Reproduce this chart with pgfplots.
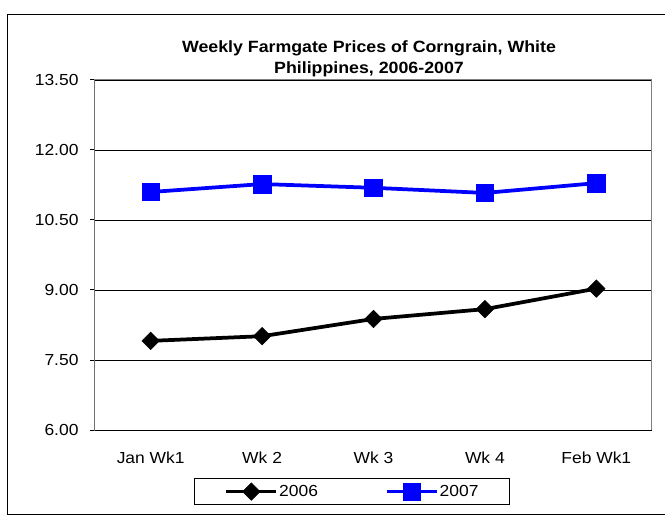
\documentclass[border=0pt]{standalone}
\usepackage{pgfplots}
\pgfplotsset{compat=1.18}
\usepackage{fontspec}
\setmainfont{Liberation Sans}[FakeStretch=1.09]
\definecolor{xlblue}{RGB}{0,0,255}
\begin{document}
\begin{tikzpicture}
\path[use as bounding box] (-95bp,-85bp) rectangle (570bp,430bp);
\draw[black, line width=1bp] (-87bp,-84bp) rectangle (572bp,415bp);
\node[align=center, font=\fontsize{16.3bp}{21bp}\selectfont\bfseries] at (274bp,371bp) {Weekly Farmgate Prices of Corngrain, White\\Philippines, 2006-2007};
\begin{axis}[
  at={(0,0)}, anchor=south west,
  scale only axis, width=557bp, height=350bp,
  xmin=-0.5, xmax=4.5, ymin=6, ymax=13.5,
  xtick={0,1,2,3,4},
  xticklabels={Jan Wk1, Wk 2, Wk 3, Wk 4, Feb Wk1},
  major x tick style={draw=none},
  extra x ticks={-0.5,0.5,1.5,2.5,3.5,4.5},
  extra x tick labels={},
  extra x tick style={major tick length=5bp, tick style={black, line width=1bp}},
  ytick={6,7.5,9,10.5,12,13.5},
  yticklabel style={/pgf/number format/fixed, /pgf/number format/fixed zerofill, /pgf/number format/precision=2, /pgf/number format/assume math mode=true, xshift=-8bp},
  ymajorgrids, grid style={black, line width=0.8bp},
  tick align=outside, tick pos=left, major tick length=5bp,
  major tick style={black, line width=1bp},
  axis line style={draw=gray, line width=1bp},
  ticklabel style={font=\fontsize{16bp}{19bp}\selectfont},
  xticklabel style={yshift=-13bp},
  legend columns=2,
  legend style={at={(0.4614,-0.137)}, anchor=north, draw=black, line width=0.8bp,
    font=\fontsize{16bp}{19bp}\selectfont, inner xsep=30bp, inner ysep=4.5bp,
    nodes={inner xsep=1bp, inner ysep=2bp},
    /tikz/every even column/.append style={column sep=66bp}},
  legend image code/.code={\draw[mark repeat=2,mark phase=2,#1] plot coordinates {(0bp,0bp) (25bp,0bp) (50bp,0bp)};},
]
\addplot[black, line width=3.75bp, mark=square*, mark size=6.2bp, mark options={solid, rotate=45, line width=0.5bp}] coordinates {
  (0,7.91) (1,8.01) (2,8.38) (3,8.59) (4,9.03)
};
\addlegendentry{2006}
\addplot[xlblue, line width=3.75bp, mark=square*, mark size=8.75bp, mark options={solid, line width=0.5bp}] coordinates {
  (0,11.10) (1,11.27) (2,11.19) (3,11.08) (4,11.29)
};
\addlegendentry{2007}
\draw[black, line width=1bp] (rel axis cs:0,1) -- (rel axis cs:0,0) -- (rel axis cs:1,0);
\end{axis}
\end{tikzpicture}
\end{document}
